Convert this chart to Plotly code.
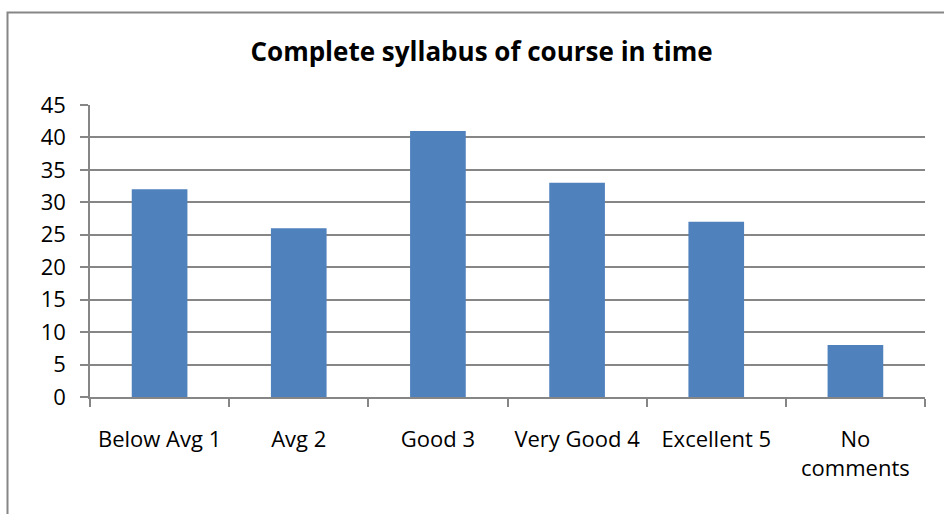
import plotly.graph_objects as go

categories = ["Below Avg 1", "Avg 2", "Good 3", "Very Good 4", "Excellent 5", "No<br>comments"]
values = [32, 26, 41, 33, 27, 8]
y_ticks = [0, 5, 10, 15, 20, 25, 30, 35, 40, 45]

W, H = 944, 514
ml, mr, mt, mb = 90, 19, 105, 117
pw, ph = W - ml - mr, H - mt - mb

def px_x(p):
    return (p - ml) / pw

def px_y(p):
    return (H - mb - p) / ph

FONT = "Open Sans, Noto Sans, sans-serif"

fig = go.Figure(go.Bar(
    x=categories, y=values,
    marker=dict(color="#4F81BD", line=dict(width=0)),
))

fig.update_layout(
    width=W, height=H,
    margin=dict(l=ml, r=mr, t=mt, b=mb),
    paper_bgcolor="white", plot_bgcolor="white",
    bargap=0.6,
    showlegend=False,
    font=dict(family=FONT, size=22, color="#000000"),
    title=dict(text="<b>Complete syllabus of course in time</b>",
               x=481.5 / W, xanchor="center", xref="container",
               y=1 - 52 / H, yanchor="middle", yref="container",
               font=dict(size=26, color="#000000")),
    xaxis=dict(
        showline=True, linecolor="#868686", linewidth=1.5,
        ticks="outside", ticklen=8, tickcolor="#868686", tickwidth=1.5,
        tickson="boundaries", showgrid=False,
        tickfont=dict(size=22), ticklabelstandoff=22,
    ),
    yaxis=dict(
        range=[0, 45], tickvals=y_ticks,
        showline=True, linecolor="#868686", linewidth=1.5,
        ticks="outside", ticklen=8, tickcolor="#868686", tickwidth=1.5,
        showgrid=True, gridcolor="#868686", gridwidth=1.5,
        zeroline=False, tickfont=dict(size=22), ticklabelstandoff=10,
    ),
    shapes=[dict(type="rect", xref="paper", yref="paper",
                 x0=px_x(7.5), x1=px_x(960), y0=px_y(530), y1=px_y(12.5),
                 line=dict(color="#868686", width=2), fillcolor="rgba(0,0,0,0)",
                 layer="below")],
)

fig.write_html("out.html", config={"displayModeBar": False},
               post_script="document.body.style.margin='0';")
